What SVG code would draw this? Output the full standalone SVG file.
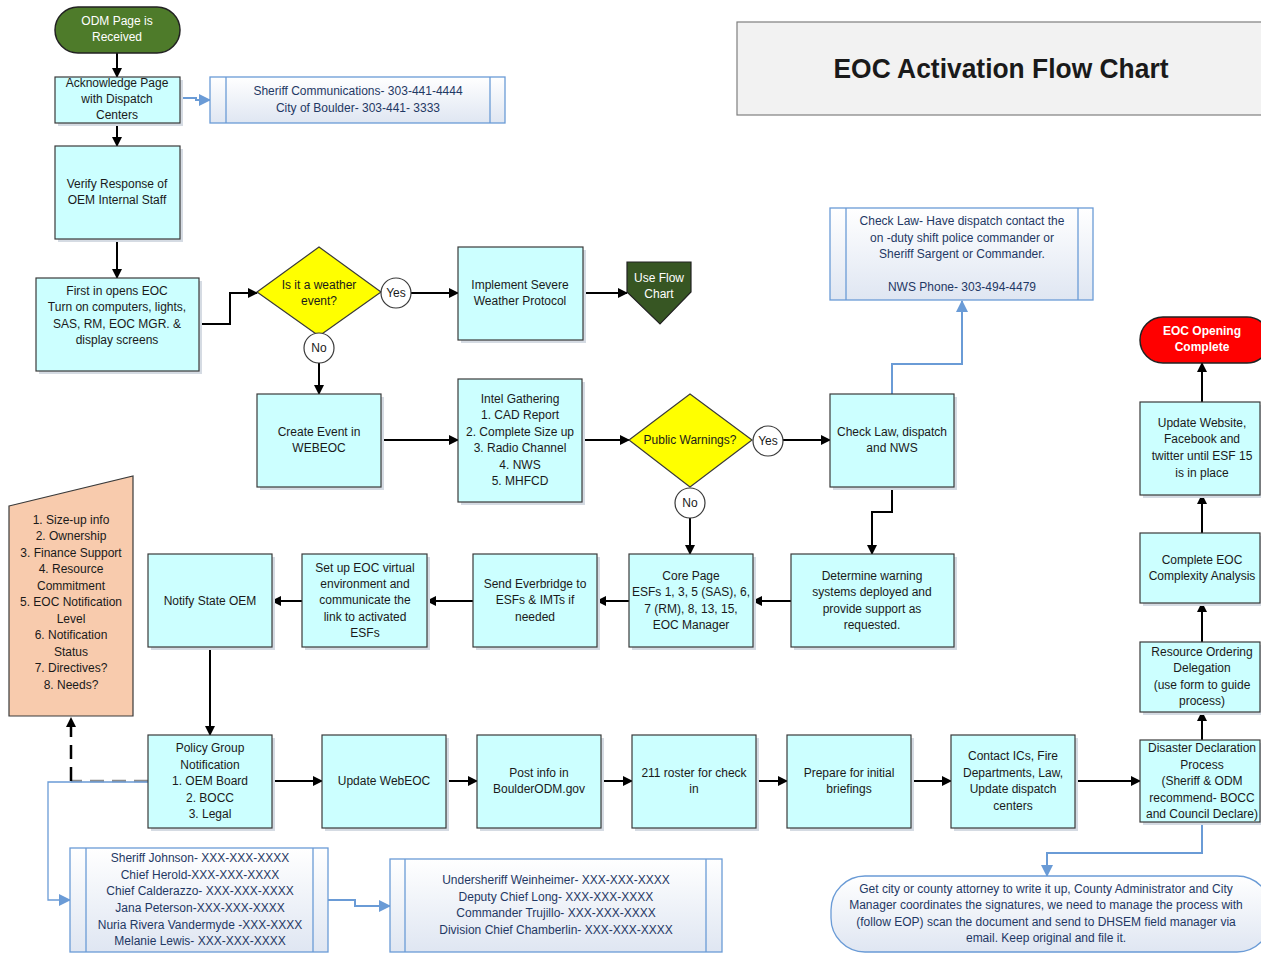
<svg xmlns="http://www.w3.org/2000/svg" width="1261" height="953" viewBox="0 0 1261 953">
  <defs>
    <style>
      text { font-family: "Liberation Sans", Arial, sans-serif; font-size: 12px; fill: #1a1a1a; text-anchor: middle; dominant-baseline: central; }
      .proc { fill: #ccffff; stroke: #3a3a3a; stroke-width: 1.2; }
      .shadow { fill: #d5dbe3; }
      .dec { fill: #ffff00; stroke: #3a3a3a; stroke-width: 1.2; }
      .lbl { fill: #ffffff; stroke: #3a3a3a; stroke-width: 1.2; }
      .note { fill: url(#noteGrad); stroke: #6a9bd6; stroke-width: 1.3; }
      .noteline { stroke: #6a9bd6; stroke-width: 1.3; fill: none; }
      .notetext { fill: #1f3864; }
      .white { fill: #ffffff; }
      .flow { stroke: #000; stroke-width: 2; fill: none; }
      .blue { stroke: #6a9bd6; stroke-width: 2; fill: none; }
      .bluethin { stroke: #6a9bd6; stroke-width: 1.3; fill: none; }
    </style>
    <linearGradient id="noteGrad" x1="0" y1="0" x2="0" y2="1">
      <stop offset="0" stop-color="#ffffff"/>
      <stop offset="1" stop-color="#dfe6f2"/>
    </linearGradient>
    <marker id="ah" markerWidth="10" markerHeight="10" refX="9" refY="5" orient="auto" markerUnits="userSpaceOnUse">
      <path d="M0,0 L10,5 L0,10 z" fill="#000"/>
    </marker>
    <marker id="ahb" markerWidth="12" markerHeight="12" refX="11" refY="6" orient="auto" markerUnits="userSpaceOnUse">
      <path d="M0,0 L12,6 L0,12 z" fill="#6a9bd6"/>
    </marker>
  </defs>

  <rect width="1261" height="953" fill="#ffffff"/>

  <!-- Title -->
  <g id="title">
    <rect x="737" y="22" width="530" height="93" fill="#f2f2f2" stroke="#7f7f7f" stroke-width="1.2"/>
    <text x="1001" y="69" style="font-size:27px;font-weight:bold" textLength="335" lengthAdjust="spacingAndGlyphs">EOC Activation Flow Chart</text>
  </g>

  <!-- Connectors -->
  <g id="connectors">
    <line class="flow" x1="117" y1="53" x2="117" y2="77" marker-end="url(#ah)"/>
    <path class="blue" d="M180,98 L196,98 L196,100 L210,100" marker-end="url(#ahb)"/>
    <line class="flow" x1="117" y1="123" x2="117" y2="146" marker-end="url(#ah)"/>
    <line class="flow" x1="117" y1="239" x2="117" y2="278" marker-end="url(#ah)"/>
    <path class="flow" d="M199,324 L230,324 L230,293 L257,293" marker-end="url(#ah)"/>
    <line class="flow" x1="381" y1="293" x2="381" y2="293"/>
    <line class="flow" x1="411" y1="293" x2="458" y2="293" marker-end="url(#ah)"/>
    <line class="flow" x1="583" y1="293" x2="627" y2="293" marker-end="url(#ah)"/>
    <line class="flow" x1="319" y1="363" x2="319" y2="394" marker-end="url(#ah)"/>
    <line class="flow" x1="381" y1="440" x2="458" y2="440" marker-end="url(#ah)"/>
    <line class="flow" x1="582" y1="440" x2="629" y2="440" marker-end="url(#ah)"/>
    <line class="flow" x1="783" y1="440" x2="830" y2="440" marker-end="url(#ah)"/>
    <path class="blue" d="M892,394 L892,364 L962,364 L962,301" marker-end="url(#ahb)"/>
    <path class="flow" d="M892,487 L892,512 L872,512 L872,554" marker-end="url(#ah)"/>
    <line class="flow" x1="690" y1="518" x2="690" y2="554" marker-end="url(#ah)"/>
    <line class="flow" x1="791" y1="601" x2="753" y2="601" marker-end="url(#ah)"/>
    <line class="flow" x1="629" y1="601" x2="597" y2="601" marker-end="url(#ah)"/>
    <line class="flow" x1="473" y1="601" x2="427" y2="601" marker-end="url(#ah)"/>
    <line class="flow" x1="302" y1="601" x2="272" y2="601" marker-end="url(#ah)"/>
    <line class="flow" x1="210" y1="647" x2="210" y2="735" marker-end="url(#ah)"/>
    <line class="flow" x1="272" y1="781" x2="322" y2="781" marker-end="url(#ah)"/>
    <line class="flow" x1="446" y1="781" x2="477" y2="781" marker-end="url(#ah)"/>
    <line class="flow" x1="601" y1="781" x2="632" y2="781" marker-end="url(#ah)"/>
    <line class="flow" x1="756" y1="781" x2="787" y2="781" marker-end="url(#ah)"/>
    <line class="flow" x1="911" y1="781" x2="951" y2="781" marker-end="url(#ah)"/>
    <line class="flow" x1="1075" y1="781" x2="1140" y2="781" marker-end="url(#ah)"/>
    <line class="flow" x1="1202" y1="740" x2="1202" y2="712" marker-end="url(#ah)"/>
    <line class="flow" x1="1202" y1="642" x2="1202" y2="603" marker-end="url(#ah)"/>
    <line class="flow" x1="1202" y1="533" x2="1202" y2="495" marker-end="url(#ah)"/>
    <line class="flow" x1="1202" y1="402" x2="1202" y2="363" marker-end="url(#ah)"/>
    <path class="blue" d="M1202,822 L1202,853 L1047,853 L1047,876" marker-end="url(#ahb)"/>
    <!-- dashed link to the checklist -->
    <line x1="148" y1="781" x2="71" y2="781" stroke="#8c8c8c" stroke-width="2.5" stroke-dasharray="14,8"/>
    <line x1="71" y1="781" x2="71" y2="718" stroke="#000" stroke-width="2.5" stroke-dasharray="14,8" marker-end="url(#ah)"/>
    <path class="bluethin" d="M148,782 L48,782 L48,900 L70,900" marker-end="url(#ahb)"/>
    <path class="blue" d="M328,900 L355,900 L355,906 L390,906" marker-end="url(#ahb)"/>
  </g>

  <!-- Nodes -->
  <g id="odm-page">
    <rect x="55" y="7" width="125" height="46" rx="23" fill="#4e7b2a" stroke="#222" stroke-width="1.5"/>
    <text class="white" x="117" y="21">ODM Page is</text>
    <text class="white" x="117" y="37">Received</text>
  </g>

  <g id="acknowledge">
    <rect class="shadow" x="58" y="80" width="125" height="46"/>
    <rect class="proc" x="55" y="77" width="125" height="46"/>
    <text x="117" y="83">Acknowledge Page</text>
    <text x="117" y="99">with Dispatch</text>
    <text x="117" y="115">Centers</text>
  </g>

  <g id="dispatch-phones">
    <rect class="note" x="210" y="77" width="295" height="46"/>
    <line class="noteline" x1="226" y1="77" x2="226" y2="123"/>
    <line class="noteline" x1="490" y1="77" x2="490" y2="123"/>
    <text class="notetext" x="358" y="91">Sheriff Communications- 303-441-4444</text>
    <text class="notetext" x="358" y="108">City of Boulder- 303-441- 3333</text>
  </g>

  <g id="verify-response">
    <rect class="shadow" x="58" y="149" width="125" height="93"/>
    <rect class="proc" x="55" y="146" width="125" height="93"/>
    <text x="117" y="184">Verify Response of</text>
    <text x="117" y="200">OEM Internal Staff</text>
  </g>

  <g id="first-in">
    <rect class="shadow" x="39" y="281" width="163" height="93"/>
    <rect class="proc" x="36" y="278" width="163" height="93"/>
    <text x="117" y="291">First in opens EOC</text>
    <text x="117" y="307">Turn on computers, lights,</text>
    <text x="117" y="324">SAS, RM, EOC MGR. &amp;</text>
    <text x="117" y="340">display screens</text>
  </g>

  <g id="weather-decision">
    <polygon class="dec" points="319,247 381,292 319,336 257,292"/>
    <text x="319" y="285">Is it a weather</text>
    <text x="319" y="301">event?</text>
  </g>
  <g id="weather-yes">
    <circle class="lbl" cx="396" cy="293" r="15"/>
    <text x="396" y="293">Yes</text>
  </g>
  <g id="weather-no">
    <circle class="lbl" cx="319" cy="348" r="15"/>
    <text x="319" y="348">No</text>
  </g>

  <g id="severe-weather">
    <rect class="shadow" x="461" y="250" width="125" height="93"/>
    <rect class="proc" x="458" y="247" width="125" height="93"/>
    <text x="520" y="285">Implement Severe</text>
    <text x="520" y="301">Weather Protocol</text>
  </g>

  <g id="use-flow-chart">
    <polygon points="627,262 691,262 691,292 660,324 627,292" fill="#375623" stroke="#222" stroke-width="1.2"/>
    <text class="white" x="659" y="278">Use Flow</text>
    <text class="white" x="659" y="294">Chart</text>
  </g>

  <g id="create-event">
    <rect class="shadow" x="260" y="397" width="124" height="93"/>
    <rect class="proc" x="257" y="394" width="124" height="93"/>
    <text x="319" y="432">Create Event in</text>
    <text x="319" y="448">WEBEOC</text>
  </g>

  <g id="intel-gathering">
    <rect class="shadow" x="461" y="382" width="124" height="123"/>
    <rect class="proc" x="458" y="379" width="124" height="123"/>
    <text x="520" y="399">Intel Gathering</text>
    <text x="520" y="415">1. CAD Report</text>
    <text x="520" y="432">2. Complete Size up</text>
    <text x="520" y="448">3. Radio Channel</text>
    <text x="520" y="465">4. NWS</text>
    <text x="520" y="481">5. MHFCD</text>
  </g>

  <g id="warnings-decision">
    <polygon class="dec" points="690,394 752,440 690,487 629,440"/>
    <text x="690" y="440">Public Warnings?</text>
  </g>
  <g id="warnings-yes">
    <circle class="lbl" cx="768" cy="441" r="15"/>
    <text x="768" y="441">Yes</text>
  </g>
  <g id="warnings-no">
    <circle class="lbl" cx="690" cy="503" r="15"/>
    <text x="690" y="503">No</text>
  </g>

  <g id="check-law">
    <rect class="shadow" x="833" y="397" width="124" height="93"/>
    <rect class="proc" x="830" y="394" width="124" height="93"/>
    <text x="892" y="432">Check Law, dispatch</text>
    <text x="892" y="448">and NWS</text>
  </g>

  <g id="check-law-note">
    <rect class="note" x="830" y="208" width="263" height="92"/>
    <line class="noteline" x1="846" y1="208" x2="846" y2="300"/>
    <line class="noteline" x1="1078" y1="208" x2="1078" y2="300"/>
    <text class="notetext" x="962" y="221">Check Law- Have dispatch contact the</text>
    <text class="notetext" x="962" y="238">on -duty shift police commander or</text>
    <text class="notetext" x="962" y="254">Sheriff Sargent or Commander.</text>
    <text class="notetext" x="962" y="287">NWS Phone- 303-494-4479</text>
  </g>

  <g id="determine-warning">
    <rect class="shadow" x="794" y="557" width="163" height="93"/>
    <rect class="proc" x="791" y="554" width="163" height="93"/>
    <text x="872" y="576">Determine warning</text>
    <text x="872" y="592">systems deployed and</text>
    <text x="872" y="609">provide support as</text>
    <text x="872" y="625">requested.</text>
  </g>

  <g id="core-page">
    <rect class="shadow" x="632" y="557" width="124" height="93"/>
    <rect class="proc" x="629" y="554" width="124" height="93"/>
    <text x="691" y="576">Core Page</text>
    <text x="691" y="592">ESFs 1, 3, 5 (SAS), 6,</text>
    <text x="691" y="609">7 (RM), 8, 13, 15,</text>
    <text x="691" y="625">EOC Manager</text>
  </g>

  <g id="send-everbridge">
    <rect class="shadow" x="476" y="557" width="124" height="93"/>
    <rect class="proc" x="473" y="554" width="124" height="93"/>
    <text x="535" y="584">Send Everbridge to</text>
    <text x="535" y="600">ESFs &amp; IMTs if</text>
    <text x="535" y="617">needed</text>
  </g>

  <g id="virtual-eoc">
    <rect class="shadow" x="305" y="557" width="125" height="93"/>
    <rect class="proc" x="302" y="554" width="125" height="93"/>
    <text x="365" y="568">Set up EOC virtual</text>
    <text x="365" y="584">environment and</text>
    <text x="365" y="600">communicate the</text>
    <text x="365" y="617">link to activated</text>
    <text x="365" y="633">ESFs</text>
  </g>

  <g id="notify-state">
    <rect class="shadow" x="151" y="557" width="124" height="93"/>
    <rect class="proc" x="148" y="554" width="124" height="93"/>
    <text x="210" y="601">Notify State OEM</text>
  </g>

  <g id="checklist">
    <polygon points="9,506 133,476 133,716 9,716" fill="#f8cbad" stroke="#3a3a3a" stroke-width="1.2"/>
    <text x="71" y="520">1. Size-up info</text>
    <text x="71" y="536">2. Ownership</text>
    <text x="71" y="553">3. Finance Support</text>
    <text x="71" y="569">4. Resource</text>
    <text x="71" y="586">Commitment</text>
    <text x="71" y="602">5. EOC Notification</text>
    <text x="71" y="619">Level</text>
    <text x="71" y="635">6. Notification</text>
    <text x="71" y="652">Status</text>
    <text x="71" y="668">7. Directives?</text>
    <text x="71" y="685">8. Needs?</text>
  </g>

  <g id="policy-group">
    <rect class="shadow" x="151" y="738" width="124" height="93"/>
    <rect class="proc" x="148" y="735" width="124" height="93"/>
    <text x="210" y="748">Policy Group</text>
    <text x="210" y="765">Notification</text>
    <text x="210" y="781">1. OEM Board</text>
    <text x="210" y="798">2. BOCC</text>
    <text x="210" y="814">3. Legal</text>
  </g>

  <g id="update-webeoc">
    <rect class="shadow" x="325" y="738" width="124" height="93"/>
    <rect class="proc" x="322" y="735" width="124" height="93"/>
    <text x="384" y="781">Update WebEOC</text>
  </g>

  <g id="post-info">
    <rect class="shadow" x="480" y="738" width="124" height="93"/>
    <rect class="proc" x="477" y="735" width="124" height="93"/>
    <text x="539" y="773">Post info in</text>
    <text x="539" y="789">BoulderODM.gov</text>
  </g>

  <g id="roster">
    <rect class="shadow" x="635" y="738" width="124" height="93"/>
    <rect class="proc" x="632" y="735" width="124" height="93"/>
    <text x="694" y="773">211 roster for check</text>
    <text x="694" y="789">in</text>
  </g>

  <g id="briefings">
    <rect class="shadow" x="790" y="738" width="124" height="93"/>
    <rect class="proc" x="787" y="735" width="124" height="93"/>
    <text x="849" y="773">Prepare for initial</text>
    <text x="849" y="789">briefings</text>
  </g>

  <g id="contact-ics">
    <rect class="shadow" x="954" y="738" width="124" height="93"/>
    <rect class="proc" x="951" y="735" width="124" height="93"/>
    <text x="1013" y="756">Contact ICs, Fire</text>
    <text x="1013" y="773">Departments, Law,</text>
    <text x="1013" y="789">Update dispatch</text>
    <text x="1013" y="806">centers</text>
  </g>

  <g id="disaster-declaration">
    <rect class="shadow" x="1143" y="743" width="121" height="82"/>
    <rect class="proc" x="1140" y="740" width="120" height="82"/>
    <text x="1202" y="748">Disaster Declaration</text>
    <text x="1202" y="765">Process</text>
    <text x="1202" y="781">(Sheriff &amp; ODM</text>
    <text x="1202" y="798">recommend- BOCC</text>
    <text x="1202" y="814">and Council Declare)</text>
  </g>

  <g id="resource-ordering">
    <rect class="shadow" x="1143" y="645" width="121" height="70"/>
    <rect class="proc" x="1140" y="642" width="120" height="70"/>
    <text x="1202" y="652">Resource Ordering</text>
    <text x="1202" y="668">Delegation</text>
    <text x="1202" y="685">(use form to guide</text>
    <text x="1202" y="701">process)</text>
  </g>

  <g id="complexity-analysis">
    <rect class="shadow" x="1143" y="536" width="121" height="70"/>
    <rect class="proc" x="1140" y="533" width="120" height="70"/>
    <text x="1202" y="560">Complete EOC</text>
    <text x="1202" y="576">Complexity Analysis</text>
  </g>

  <g id="update-website">
    <rect class="shadow" x="1143" y="405" width="121" height="93"/>
    <rect class="proc" x="1140" y="402" width="120" height="93"/>
    <text x="1202" y="423">Update Website,</text>
    <text x="1202" y="439">Facebook and</text>
    <text x="1202" y="456">twitter until ESF 15</text>
    <text x="1202" y="473">is in place</text>
  </g>

  <g id="eoc-opening-complete">
    <rect x="1140" y="317" width="130" height="46" rx="23" fill="#ff0000" stroke="#222" stroke-width="1.5"/>
    <text class="white" x="1202" y="331" style="font-weight:bold">EOC Opening</text>
    <text class="white" x="1202" y="347" style="font-weight:bold">Complete</text>
  </g>

  <g id="declaration-note">
    <rect class="note" x="831" y="876" width="440" height="76" rx="34"/>
    <text class="notetext" x="1046" y="889">Get city or county attorney to write it up, County Administrator and City</text>
    <text class="notetext" x="1046" y="905">Manager coordinates the signatures, we need to manage the process with</text>
    <text class="notetext" x="1046" y="922">(follow EOP) scan the document and send to DHSEM field manager via</text>
    <text class="notetext" x="1046" y="938">email. Keep original and file it.</text>
  </g>

  <g id="policy-contacts">
    <rect class="note" x="70" y="848" width="258" height="104"/>
    <line class="noteline" x1="86" y1="848" x2="86" y2="952"/>
    <line class="noteline" x1="313" y1="848" x2="313" y2="952"/>
    <text class="notetext" x="200" y="858">Sheriff Johnson- XXX-XXX-XXXX</text>
    <text class="notetext" x="200" y="875">Chief Herold-XXX-XXX-XXXX</text>
    <text class="notetext" x="200" y="891">Chief Calderazzo- XXX-XXX-XXXX</text>
    <text class="notetext" x="200" y="908">Jana Peterson-XXX-XXX-XXXX</text>
    <text class="notetext" x="200" y="925">Nuria Rivera Vandermyde -XXX-XXXX</text>
    <text class="notetext" x="200" y="941">Melanie Lewis- XXX-XXX-XXXX</text>
  </g>

  <g id="command-contacts">
    <rect class="note" x="390" y="859" width="332" height="93"/>
    <line class="noteline" x1="405" y1="859" x2="405" y2="952"/>
    <line class="noteline" x1="706" y1="859" x2="706" y2="952"/>
    <text class="notetext" x="556" y="880">Undersheriff Weinheimer- XXX-XXX-XXXX</text>
    <text class="notetext" x="556" y="897">Deputy Chief Long- XXX-XXX-XXXX</text>
    <text class="notetext" x="556" y="913">Commander Trujillo- XXX-XXX-XXXX</text>
    <text class="notetext" x="556" y="930">Division Chief Chamberlin- XXX-XXX-XXXX</text>
  </g>
</svg>
